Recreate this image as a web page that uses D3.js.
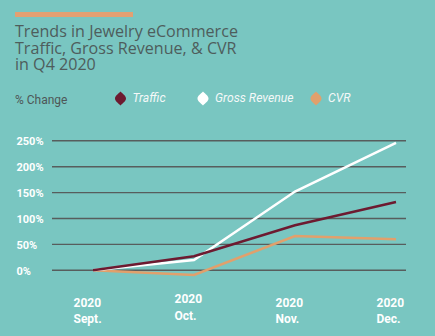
<!DOCTYPE html>
<html><head><meta charset="utf-8">
<script src="https://cdn.jsdelivr.net/npm/d3@7"></script>
<style>html,body{margin:0;padding:0;background:#79c6c1;}svg{display:block;}</style>
</head><body><svg id="chart" width="435" height="336"></svg>
<script>
const months = ["Sept.", "Oct.", "Nov.", "Dec."];
const years = ["2020", "2020", "2020", "2020"];
const traffic = [0, 27, 87, 132];
const grossRevenue = [0, 20, 152, 246];
const cvr = [0, -9, 66, 60];
const yTicks = [0, 50, 100, 150, 200, 250];
const seriesNames = ["Traffic", "Gross Revenue", "CVR"];
const titleLines = ["Trends in Jewelry eCommerce", "Traffic, Gross Revenue, & CVR", "in Q4 2020"];

const colors = {Traffic: "#6d1a30", "Gross Revenue": "#ffffff", CVR: "#e1a06c"};
const svg = d3.select("#chart");

svg.append("rect").attr("width", 435).attr("height", 336).attr("fill", "#79c6c1");
svg.append("rect").attr("x", 15).attr("y", 12).attr("width", 118).attr("height", 5).attr("fill", "#e3a072");

svg.append("g").selectAll("text").data(titleLines).join("text")
  .attr("x", 15).attr("y", (d, i) => 36.8 + i * 16.8)
  .attr("font-family", "'Open Sans', sans-serif").attr("font-size", 16.1)
  .attr("fill", "#4e5d5c").text(d => d);

svg.append("text").attr("x", 15).attr("y", 103.5)
  .attr("font-family", "Roboto, sans-serif").attr("font-size", 12)
  .attr("fill", "#4e5757").text("% Change");

const legendX = [120.5, 203, 316];
const lg = svg.append("g").selectAll("g").data(seriesNames).join("g")
  .attr("transform", (d, i) => `translate(${legendX[i]},98.5)`);
lg.append("path")
  .attr("d", "M0,-7 C2.5,-4.5 5.5,-2.5 5.5,0 C5.5,2.5 2.5,4.5 0,7 C-2.5,4.5 -5.5,2.5 -5.5,0 C-5.5,-2.5 -2.5,-4.5 0,-7Z")
  .attr("fill", d => colors[d]);
lg.append("text").attr("x", 12).attr("y", 3.8)
  .attr("font-family", "Roboto, sans-serif").attr("font-style", "italic").attr("font-size", 12.2)
  .attr("fill", "#f4f8f8").text(d => d);

const x = d3.scalePoint().domain(months).range([93, 396]);
const y = d3.scaleLinear().domain([0, 250]).range([270.3, 140.8]);

// gridlines
svg.append("g").selectAll("line").data(yTicks).join("line")
  .attr("x1", 52).attr("x2", 406)
  .attr("y1", d => y(d)).attr("y2", d => y(d))
  .attr("stroke", "#575d5d").attr("stroke-width", 1.4);

// y axis labels
const yAxis = d3.axisLeft(y).tickValues(yTicks).tickFormat(d => d + "%").tickSize(0);
const ya = svg.append("g").attr("transform", "translate(16.5,0)").call(yAxis);
ya.select(".domain").remove();
ya.selectAll("text").attr("x", 0).attr("dy", "0.36em").attr("text-anchor", "start")
  .attr("font-family", "Roboto, sans-serif").attr("font-weight", "bold").attr("font-size", 11)
  .attr("fill", "#ffffff");

// x axis labels
const xAxis = d3.axisBottom(x).tickSize(0).tickFormat(() => "");
const xa = svg.append("g").call(xAxis);
xa.select(".domain").remove();
xa.selectAll(".tick").each(function(d, i) {
  const g = d3.select(this);
  const dy = d === "Oct." ? -3.5 : 0;
  g.append("text").attr("x", -20).attr("y", 306.5 + dy).attr("text-anchor", "start")
    .attr("font-family", "Roboto, sans-serif").attr("font-weight", "bold").attr("font-size", 12)
    .attr("fill", "#ffffff").text(years[i]);
  g.append("text").attr("x", -20).attr("y", 323 + dy).attr("text-anchor", "start")
    .attr("font-family", "Roboto, sans-serif").attr("font-weight", "bold").attr("font-size", 12)
    .attr("fill", "#ffffff").text(d);
});

const line = d3.line().x((d, i) => x(months[i])).y(d => y(d));
const seriesData = {Traffic: traffic, "Gross Revenue": grossRevenue, CVR: cvr};
["CVR", "Gross Revenue", "Traffic"].forEach(name => {
  svg.append("path").datum(seriesData[name])
    .attr("d", line).attr("fill", "none")
    .attr("stroke", colors[name]).attr("stroke-width", 2.5)
    .attr("stroke-linejoin", "miter");
});
</script></body></html>
